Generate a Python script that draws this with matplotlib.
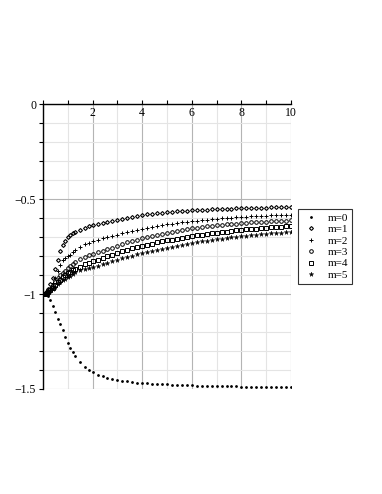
import numpy as np
import matplotlib
matplotlib.use("Agg")
import matplotlib.pyplot as plt
from matplotlib.ticker import MultipleLocator, FuncFormatter

plt.rcParams['font.family'] = ['Liberation Serif', 'DejaVu Serif']

# sample positions along x
x = [0, 0.05, 0.1, 0.15, 0.2, 0.3, 0.4,
     0.5, 0.6, 0.7, 0.8, 0.9, 1.0, 1.1, 1.2, 1.3, 1.5, 1.7, 1.85, 2.0,
     2.2, 2.4, 2.6, 2.8, 3.0, 3.2, 3.4, 3.6, 3.8, 4.0, 4.2, 4.4, 4.6, 4.8, 5.0,
     5.2, 5.4, 5.6, 5.8, 6.0, 6.2, 6.4, 6.6, 6.8, 7.0, 7.2, 7.4, 7.6, 7.8, 8.0,
     8.2, 8.4, 8.6, 8.8, 9.0, 9.2, 9.4, 9.6, 9.8, 10.0]

m0 = [-1.000, -1.001, -1.003, -1.006, -1.012, -1.030, -1.060,
      -1.095, -1.130, -1.160, -1.190, -1.225, -1.255, -1.283, -1.306, -1.326, -1.357,
      -1.384, -1.400, -1.412,
      -1.424, -1.433, -1.441, -1.447, -1.452, -1.456, -1.460, -1.463, -1.466, -1.468,
      -1.470, -1.472, -1.473, -1.475, -1.476, -1.477, -1.478, -1.479, -1.480, -1.481,
      -1.482, -1.482, -1.483, -1.484, -1.484, -1.485, -1.485, -1.486, -1.486, -1.487,
      -1.487, -1.488, -1.488, -1.488, -1.489, -1.489, -1.489, -1.490, -1.490, -1.490]

m1 = [-1.000, -0.998, -0.993, -0.985, -0.975, -0.948, -0.915,
      -0.868, -0.822, -0.775, -0.740, -0.720, -0.700, -0.686, -0.678, -0.672, -0.660,
      -0.650, -0.643, -0.637,
      -0.631, -0.625, -0.619, -0.613, -0.607, -0.602, -0.597, -0.592, -0.587, -0.583,
      -0.580, -0.577, -0.574, -0.571, -0.568, -0.566, -0.564, -0.562, -0.560, -0.558,
      -0.557, -0.556, -0.555, -0.553, -0.552, -0.551, -0.550, -0.549, -0.548, -0.547,
      -0.546, -0.546, -0.545, -0.544, -0.544, -0.543, -0.542, -0.542, -0.541, -0.541]

m2 = [-1.000, -0.999, -0.996, -0.991, -0.984, -0.967, -0.943,
      -0.915, -0.877, -0.845, -0.822, -0.809, -0.800, -0.791, -0.780, -0.769, -0.752,
      -0.737, -0.728, -0.720,
      -0.713, -0.706, -0.698, -0.692, -0.686, -0.680, -0.674, -0.668, -0.662, -0.656,
      -0.651, -0.646, -0.641, -0.636, -0.632, -0.628, -0.624, -0.621, -0.618, -0.615,
      -0.612, -0.610, -0.608, -0.605, -0.603, -0.601, -0.599, -0.597, -0.595, -0.593,
      -0.592, -0.590, -0.589, -0.587, -0.586, -0.585, -0.584, -0.583, -0.582, -0.581]

m3 = [-1.000, -0.999, -0.997, -0.993, -0.988, -0.975, -0.957,
      -0.935, -0.914, -0.900, -0.887, -0.876, -0.864, -0.853, -0.842, -0.832, -0.817,
      -0.804, -0.796, -0.788,
      -0.780, -0.772, -0.764, -0.755, -0.745, -0.735, -0.727, -0.720, -0.712, -0.705,
      -0.699, -0.693, -0.687, -0.681, -0.676, -0.671, -0.666, -0.661, -0.657, -0.653,
      -0.649, -0.646, -0.643, -0.640, -0.637, -0.634, -0.632, -0.630, -0.628, -0.626,
      -0.624, -0.622, -0.620, -0.619, -0.617, -0.616, -0.614, -0.613, -0.612, -0.611]

m4 = [-1.000, -0.999, -0.998, -0.995, -0.991, -0.980, -0.966,
      -0.952, -0.938, -0.925, -0.912, -0.900, -0.891, -0.882, -0.875, -0.868, -0.855,
      -0.842, -0.834, -0.826,
      -0.818, -0.810, -0.801, -0.792, -0.783, -0.775, -0.767, -0.759, -0.752, -0.745,
      -0.739, -0.733, -0.727, -0.722, -0.717, -0.712, -0.707, -0.702, -0.698, -0.694,
      -0.690, -0.686, -0.682, -0.679, -0.676, -0.673, -0.670, -0.667, -0.664, -0.661,
      -0.659, -0.656, -0.654, -0.652, -0.650, -0.648, -0.646, -0.644, -0.642, -0.640]

m5 = [-1.000, -1.000, -0.998, -0.996, -0.993, -0.984, -0.973,
      -0.960, -0.948, -0.935, -0.928, -0.920, -0.911, -0.902, -0.893, -0.885, -0.872,
      -0.865, -0.861, -0.856,
      -0.849, -0.841, -0.834, -0.826, -0.818, -0.811, -0.804, -0.797, -0.790, -0.784,
      -0.778, -0.772, -0.766, -0.760, -0.755, -0.750, -0.745, -0.740, -0.735, -0.731,
      -0.727, -0.722, -0.718, -0.714, -0.711, -0.707, -0.704, -0.701, -0.698, -0.695,
      -0.692, -0.689, -0.687, -0.684, -0.682, -0.680, -0.677, -0.675, -0.673, -0.671]

labels = ['m=0', 'm=1', 'm=2', 'm=3', 'm=4', 'm=5']
series = [m0, m1, m2, m3, m4, m5]

fig = plt.figure(figsize=(3.82, 4.94), dpi=100)
ax = fig.add_axes([0.1126, 0.2126, 0.6492, 0.5759])

styles = [
    dict(marker='.', markersize=2.0, markerfacecolor='black'),
    dict(marker='D', markersize=2.0, markerfacecolor='none', markeredgewidth=0.8),
    dict(marker='+', markersize=3.2, markeredgewidth=0.7),
    dict(marker='o', markersize=2.6, markerfacecolor='none', markeredgewidth=0.7),
    dict(marker='s', markersize=2.5, markerfacecolor='none', markeredgewidth=0.7),
    dict(marker='*', markersize=3.4, markerfacecolor='black', markeredgewidth=0.3),
]
for y, lab, st in zip(series, labels, styles):
    ax.plot(x, y, linestyle='none', color='black', label=lab, **st)

ax.set_xlim(0, 10)
ax.set_ylim(-1.5, 0)

# axis lines: x axis sits at y=0 (top), y axis at x=0
ax.spines['top'].set_visible(False)
ax.spines['right'].set_visible(False)
ax.spines['bottom'].set_position(('data', 0))
for s in ['bottom', 'left']:
    ax.spines[s].set_linewidth(1.0)
    ax.spines[s].set_zorder(5)

ax.xaxis.set_major_locator(MultipleLocator(2))
ax.xaxis.set_minor_locator(MultipleLocator(1))
ax.yaxis.set_major_locator(MultipleLocator(0.5))
ax.yaxis.set_minor_locator(MultipleLocator(0.1))

ax.xaxis.set_major_formatter(FuncFormatter(lambda v, p: '' if v == 0 else f'{v:g}'))
ax.yaxis.set_major_formatter(FuncFormatter(lambda v, p: f'{v:g}'.replace('-', '\u2212')))

ax.tick_params(axis='x', which='both', direction='in', length=3, width=0.8,
               labelsize=8.5, pad=2)
ax.tick_params(axis='y', which='both', direction='out', length=3, width=0.8,
               labelsize=8.5, pad=2)

ax.set_axisbelow(True)
ax.grid(which='major', color='#b4b4b4', linewidth=0.8)
ax.grid(which='minor', color='#e4e4e4', linewidth=0.8)

leg = ax.legend(loc='upper left', bbox_to_anchor=(0.780, 0.577),
                bbox_transform=fig.transFigure, borderaxespad=0,
                fontsize=8, frameon=True, fancybox=False, edgecolor='black',
                handlelength=1.6, handletextpad=0.7, labelspacing=0.15,
                borderpad=0.35, markerscale=1.0)
leg.get_frame().set_linewidth(0.8)

fig.savefig('out.png', dpi=100)
